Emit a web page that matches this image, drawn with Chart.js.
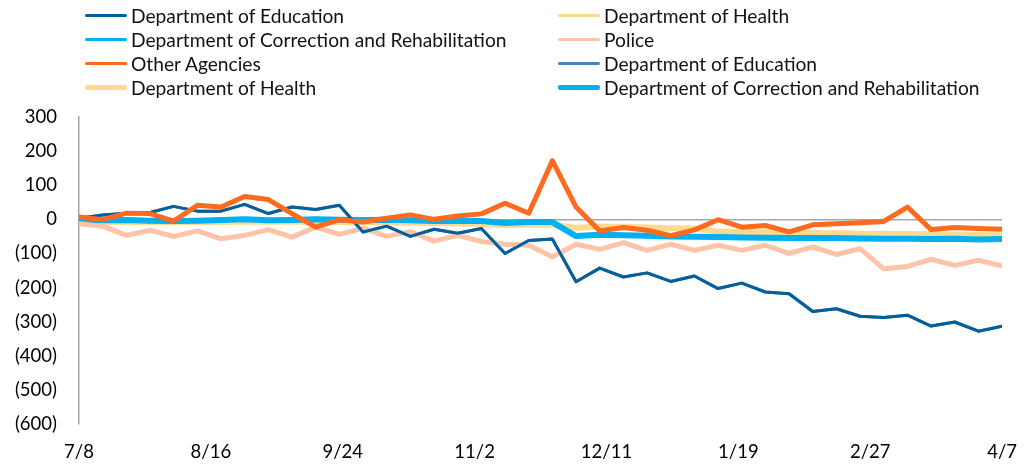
<!DOCTYPE html>
<html>
<head>
<meta charset="utf-8">
<script src="https://cdn.jsdelivr.net/npm/chart.js@4.4.0/dist/chart.umd.min.js"></script>
<style>
  html, body { margin: 0; padding: 0; background: #fff; }
  #wrap { position: relative; width: 1034px; height: 464px; }
  #c { position: absolute; left: 0; top: 0; }
  #legend { position: absolute; left: 0; top: 0; width: 1034px; height: 100px;
    font-family: Lato, "Liberation Sans", sans-serif; font-size: 19.2px; color: #111; }
  .item { position: absolute; display: flex; align-items: center; white-space: nowrap; height: 24px; }
  .swatch { width: 42px; margin-right: 4px; border-radius: 2px; }
</style>
</head>
<body>
<div id="wrap">
  <canvas id="c" width="1034" height="464"></canvas>
  <div id="legend"></div>
</div>
<script>
// Weekly categories (x positions are days since first week)
const weeks = ['7/8','7/15','7/22','7/29','8/5','8/12','8/19','8/26','9/2','9/9',
  '9/16','9/23','9/30','10/7','10/14','10/21','10/28','11/4','11/11','11/18',
  '11/25','12/2','12/9','12/16','12/23','12/30','1/6','1/13','1/20','1/27',
  '2/3','2/10','2/17','2/24','3/3','3/10','3/17','3/24','3/31','4/7'];
const tickLabels = ['7/8','8/16','9/24','11/2','12/11','1/19','2/27','4/7'];

const education = [3, 13, 18, 20, 38, 24, 24, 44, 17, 36, 29, 41, -37, -20, -50, -29, -41, -27, -100, -62,
  -58, -183, -143, -169, -157, -182, -166, -203, -187, -213, -218, -270, -262, -284, -288, -281, -313, -301, -328, -313];
const health = [-8, -8, -8, -8, -8, -8, -8, -7, -7, -7, -7, -8, -8, -9, -10, -11, -12, -13, -17, -16,
  -16, -25, -22, -22, -24, -26, -27, -36, -37, -38, -39, -40, -41, -42, -42, -43, -44, -45, -46, -47];
const correction = [-3, -3, -2, -4, -5, -4, -2, 0, -3, -2, 0, -1, -2, -1, -3, -5, -4, -5, -11, -8,
  -8, -49, -45, -47, -48, -50, -51, -52, -53, -54, -55, -55, -55, -56, -57, -57, -58, -57, -59, -58];
const police = [-13, -20, -47, -32, -50, -34, -57, -47, -30, -52, -23, -44, -26, -50, -36, -64, -47, -65, -73, -76,
  -110, -73, -88, -68, -91, -73, -91, -76, -91, -76, -100, -81, -103, -86, -145, -138, -117, -135, -120, -136];
const otherAgencies = [7, -1, 18, 17, -5, 41, 36, 67, 58, 17, -23, -1, -8, 3, 13, 0, 10, 16, 47, 18,
  172, 36, -34, -24, -32, -48, -31, -1, -23, -18, -37, -16, -13, -10, -6, 36, -30, -24, -27, -29];

function pts(arr) { return arr.map((v, i) => ({ x: i * 7, y: v })); }

const series = [
  { label: 'Department of Education', data: education, color: '#00609C', width: 3, legendWidth: 3, order: 1 },
  { label: 'Department of Health', data: health, color: '#FFD98F', width: 3, legendWidth: 3, order: 7 },
  { label: 'Department of Correction and Rehabilitation', data: correction, color: '#00B0F0', width: 3, legendWidth: 3, order: 6 },
  { label: 'Police', data: police, color: '#FFC4A8', width: 5, legendWidth: 3, order: 2 },
  { label: 'Other Agencies', data: otherAgencies, color: '#FF6A1F', width: 5, legendWidth: 3, order: 0 },
  { label: 'Department of Education', data: education, color: '#4A80BD', width: 3, legendWidth: 3, order: 8 },
  { label: 'Department of Health', data: health, color: '#FFD98F', width: 6, legendWidth: 5, order: 5 },
  { label: 'Department of Correction and Rehabilitation', data: correction, color: '#00B0F0', width: 6, legendWidth: 5, order: 4 }
];

const FONT = 'Lato, "Liberation Sans", sans-serif';

const chart = new Chart(document.getElementById('c'), {
  type: 'line',
  data: {
    datasets: series.map(s => ({
      label: s.label,
      data: pts(s.data),
      borderColor: s.color,
      backgroundColor: s.color,
      borderWidth: s.width,
      pointRadius: 0,
      tension: 0,
      fill: false,
      order: s.order,
      borderJoinStyle: 'round',
      borderCapStyle: 'round'
    }))
  },
  options: {
    responsive: false,
    animation: false,
    devicePixelRatio: 1,
    layout: { padding: { top: 117, right: 29, left: 0, bottom: 0 } },
    plugins: { legend: { display: false }, tooltip: { enabled: false } },
    scales: {
      x: {
        type: 'linear',
        min: 0, max: 273,
        grid: { display: false, drawTicks: false },
        border: { display: false },
        afterFit: s => { s.height = 40; },
        afterBuildTicks: s => { s.ticks = tickLabels.map((t, i) => ({ value: i * 39 })); },
        ticks: {
          autoSkip: false, maxRotation: 0, padding: 17,
          color: '#000', font: { family: FONT, size: 18.5 },
          callback: (v, i) => tickLabels[i]
        }
      },
      y: {
        min: -600, max: 300,
        grid: {
          drawTicks: false,
          color: ctx => (ctx.tick && ctx.tick.value === 0 ? '#A6A6A6' : 'rgba(0,0,0,0)'),
          lineWidth: 1.5
        },
        border: { display: true, color: '#A6A6A6', width: 1.5 },
        afterFit: s => { s.width = 79; },
        ticks: {
          stepSize: 100, padding: 22,
          color: '#000', font: { family: FONT, size: 18.5 },
          callback: v => (v < 0 ? '(' + (-v) + ')' : String(v))
        }
      }
    }
  }
});

// HTML legend, two columns, row-major order like the original
const legend = document.getElementById('legend');
const colX = [85, 558];
const rowY = [15, 39, 63, 87];
chart.data.datasets.forEach((ds, i) => {
  const item = document.createElement('div');
  item.className = 'item';
  item.style.left = colX[i % 2] + 'px';
  item.style.top = (rowY[Math.floor(i / 2)] - 12) + 'px';
  const sw = document.createElement('span');
  sw.className = 'swatch';
  sw.style.background = ds.borderColor;
  sw.style.height = series[i].legendWidth + 'px';
  const tx = document.createElement('span');
  tx.textContent = ds.label;
  item.appendChild(sw);
  item.appendChild(tx);
  legend.appendChild(item);
});
</script>
</body>
</html>
